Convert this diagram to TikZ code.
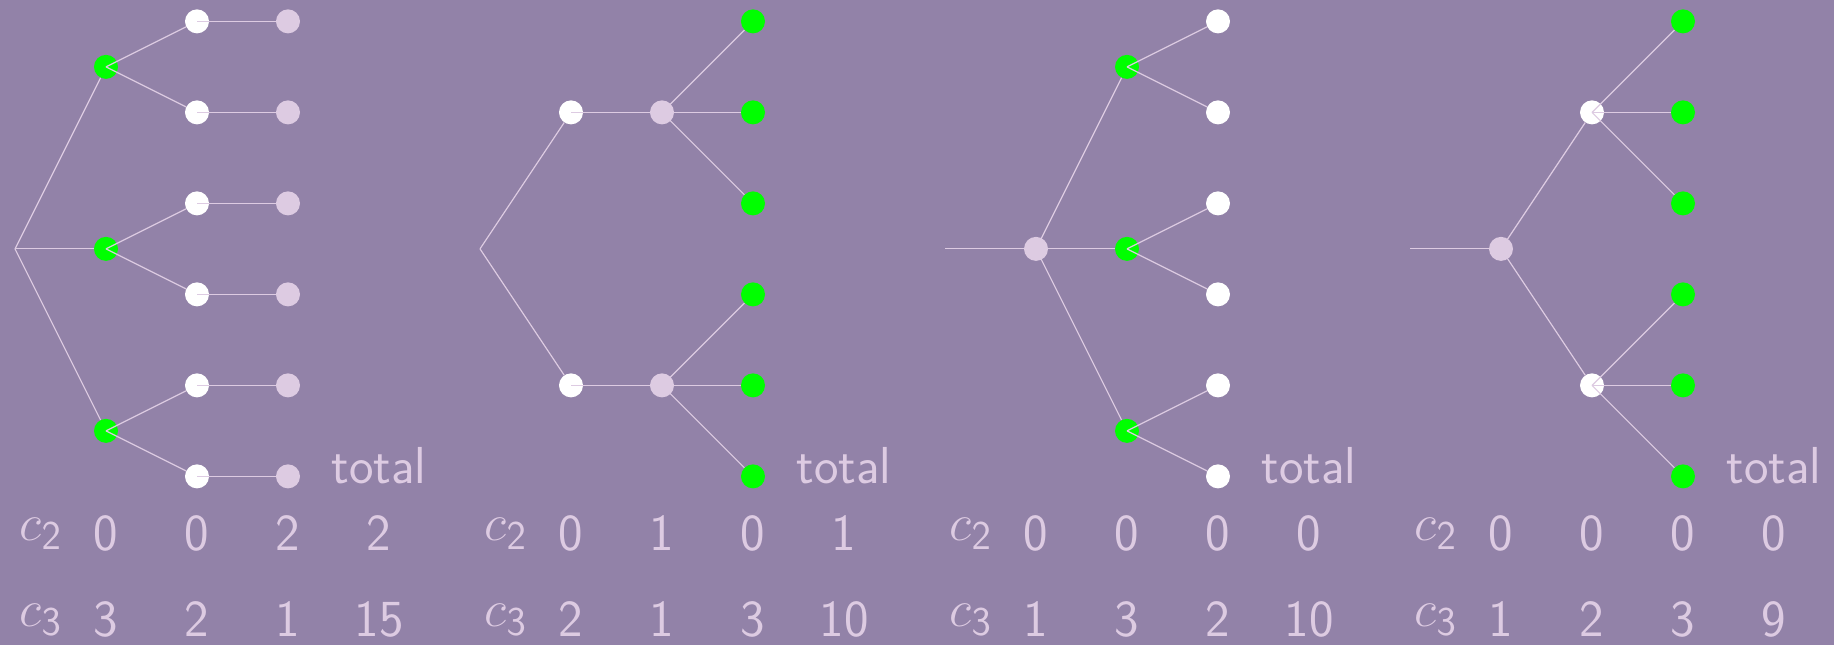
\documentclass[tikz,border=0pt]{standalone}
\usepackage{fix-cm}
\usetikzlibrary{positioning}
\definecolor{slidebg}{RGB}{146,130,168}
\definecolor{lilac}{RGB}{221,203,226}
\definecolor{litgreen}{RGB}{0,255,0}
\DeclareMathSizes{52}{52}{41}{30}
\newcommand{\cvar}[1]{$c_{\mathsf{#1}}$}

\begin{document}
\begin{tikzpicture}[x=91pt,y=91pt,
  dot/.style={circle,minimum size=24pt,inner sep=0pt},
  wdot/.style={dot,fill=white},
  gdot/.style={dot,fill=litgreen},
  ldot/.style={dot,fill=lilac},
  link/.style={lilac,line width=1.2pt},
  lbl/.style={text=lilac,font=\fontsize{52}{60}\selectfont\sffamily,inner sep=0pt,anchor=base}]
  \fill[slidebg] (-0.165,-4.353) rectangle (19.989,2.735);
  \useasboundingbox (-0.165,-4.353) rectangle (19.989,2.735);

  % first tree: 3 x 2 x 1
  \begin{scope}
    \coordinate (A0) at (0,0);
    \foreach \i/\y in {1/2,2/0,3/-2} {
      \node[gdot] (A\i) at (1,\y) {};
      \node[wdot] (A\i-a) at (2,\y+0.5) {};
      \node[wdot] (A\i-b) at (2,\y-0.5) {};
      \node[ldot] (A\i-ax) at (3,\y+0.5) {};
      \node[ldot] (A\i-bx) at (3,\y-0.5) {};
    }
    \foreach \i in {1,2,3} {
      \draw[link] (A0) -- (A\i);
      \draw[link] (A\i.center) -- (A\i-a);
      \draw[link] (A\i.center) -- (A\i-b);
      \draw[link] (A\i-a.center) -- (A\i-ax);
      \draw[link] (A\i-b.center) -- (A\i-bx);
    }
    \node[lbl] (A-tot) at (4,-2.576) {total};
    \node[lbl] (A-c2) at (0.28,-3.2) {\cvar2};
    \node[lbl] (A-c3) at (0.28,-4.147) {\cvar3};
    \foreach \v [count=\k] in {0,0,2,2} \node[lbl] (A-r2-\k) at (\k,-3.309) {\v};
    \foreach \v [count=\k] in {3,2,1,15} \node[lbl] (A-r3-\k) at (\k,-4.254) {\v};
  \end{scope}

  % second tree: 2 x 1 x 3
  \begin{scope}[xshift=465pt]
    \coordinate (B0) at (0,0);
    \foreach \i/\y in {1/1.5,2/-1.5} {
      \node[wdot] (B\i) at (1,\y) {};
      \node[ldot] (B\i-m) at (2,\y) {};
      \foreach \j/\d in {a/1,b/0,c/-1}
        \node[gdot] (B\i-\j) at (3,\y+\d) {};
    }
    \foreach \i in {1,2} {
      \draw[link] (B0) -- (B\i);
      \draw[link] (B\i.center) -- (B\i-m);
      \foreach \j in {a,b,c}
        \draw[link] (B\i-m.center) -- (B\i-\j);
    }
    \node[lbl] (B-tot) at (4,-2.576) {total};
    \node[lbl] (B-c2) at (0.28,-3.2) {\cvar2};
    \node[lbl] (B-c3) at (0.28,-4.147) {\cvar3};
    \foreach \v [count=\k] in {0,1,0,1} \node[lbl] (B-r2-\k) at (\k,-3.309) {\v};
    \foreach \v [count=\k] in {2,1,3,10} \node[lbl] (B-r3-\k) at (\k,-4.254) {\v};
  \end{scope}

  % third tree: 1 x 3 x 2
  \begin{scope}[xshift=930pt]
    \coordinate (C0) at (0,0);
    \node[ldot] (C1) at (1,0) {};
    \foreach \i/\y in {1/2,2/0,3/-2} {
      \node[gdot] (C1-\i) at (2,\y) {};
      \node[wdot] (C1-\i-a) at (3,\y+0.5) {};
      \node[wdot] (C1-\i-b) at (3,\y-0.5) {};
    }
    \draw[link] (C0) -- (C1);
    \foreach \i in {1,2,3} {
      \draw[link] (C1.center) -- (C1-\i);
      \draw[link] (C1-\i.center) -- (C1-\i-a);
      \draw[link] (C1-\i.center) -- (C1-\i-b);
    }
    \node[lbl] (C-tot) at (4,-2.576) {total};
    \node[lbl] (C-c2) at (0.28,-3.2) {\cvar2};
    \node[lbl] (C-c3) at (0.28,-4.147) {\cvar3};
    \foreach \v [count=\k] in {0,0,0,0} \node[lbl] (C-r2-\k) at (\k,-3.309) {\v};
    \foreach \v [count=\k] in {1,3,2,10} \node[lbl] (C-r3-\k) at (\k,-4.254) {\v};
  \end{scope}

  % fourth tree: 1 x 2 x 3
  \begin{scope}[xshift=1395pt]
    \coordinate (D0) at (0,0);
    \node[ldot] (D1) at (1,0) {};
    \foreach \i/\y in {1/1.5,2/-1.5} {
      \node[wdot] (D1-\i) at (2,\y) {};
      \foreach \j/\d in {a/1,b/0,c/-1}
        \node[gdot] (D1-\i-\j) at (3,\y+\d) {};
    }
    \draw[link] (D0) -- (D1);
    \foreach \i in {1,2} {
      \draw[link] (D1.center) -- (D1-\i);
      \foreach \j in {a,b,c}
        \draw[link] (D1-\i.center) -- (D1-\i-\j);
    }
    \node[lbl] (D-tot) at (4,-2.576) {total};
    \node[lbl] (D-c2) at (0.28,-3.2) {\cvar2};
    \node[lbl] (D-c3) at (0.28,-4.147) {\cvar3};
    \foreach \v [count=\k] in {0,0,0,0} \node[lbl] (D-r2-\k) at (\k,-3.309) {\v};
    \foreach \v [count=\k] in {1,2,3,9} \node[lbl] (D-r3-\k) at (\k,-4.254) {\v};
  \end{scope}
\end{tikzpicture}
\end{document}
